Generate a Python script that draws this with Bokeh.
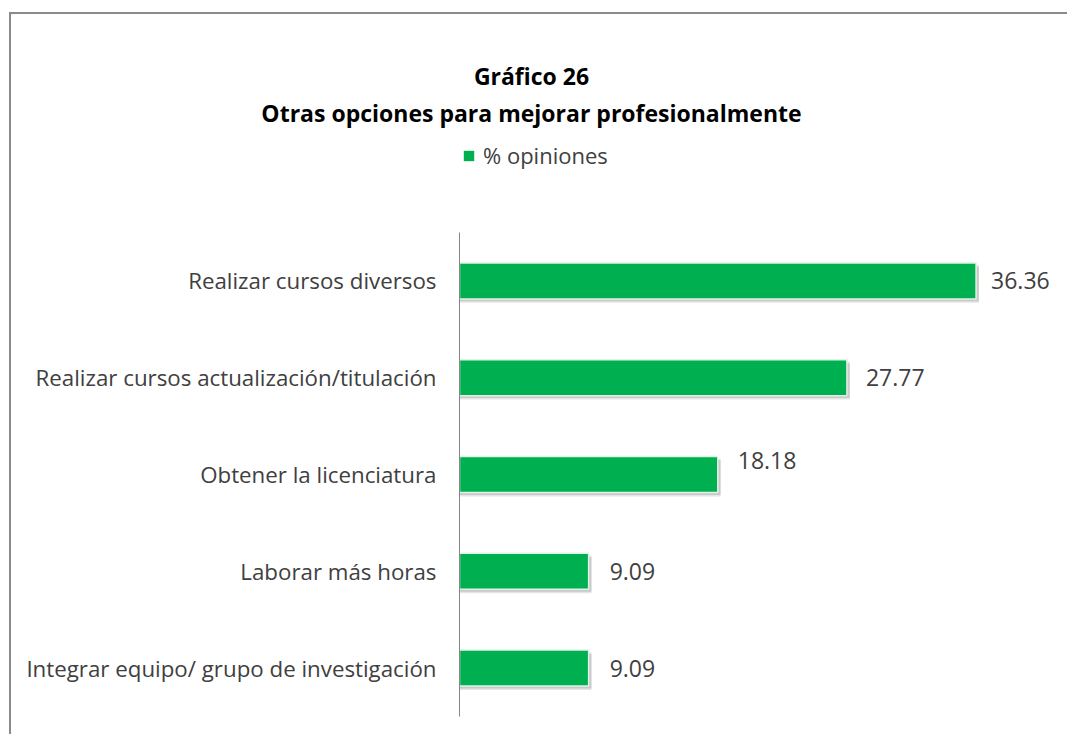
from bokeh.plotting import figure
from bokeh.models import ColumnDataSource, Label, Legend, LegendItem, Range1d, FactorRange
from bokeh.layouts import column
from bokeh.transform import dodge
from bokeh.core.properties import value
from bokeh.embed import file_html
from bokeh.resources import INLINE

categories = [
    "Realizar cursos diversos",
    "Realizar cursos actualización/titulación",
    "Obtener la licenciatura",
    "Laborar más horas",
    "Integrar equipo/ grupo de investigación",
]
values = [36.36, 27.27, 18.18, 9.09, 9.09]
value_labels = ["36.36", "27.77", "18.18", "9.09", "9.09"]
series_name = "% opiniones"
title_lines = ["Gráfico 26", "Otras opciones para mejorar profesionalmente"]

FONT = "Open Sans"
GREEN = "#00B050"
TXT = "#404040"
W = 1056
HH = 200

# ---------- header (titles + legend) ----------
hdr = figure(width=W, height=HH, x_range=Range1d(0, W), y_range=Range1d(HH, 0),
             output_backend="svg", toolbar_location=None,
             min_border=0, min_border_left=0, min_border_right=0,
             min_border_top=0, min_border_bottom=0)
hdr.frame_align = False
hdr.axis.visible = False
hdr.grid.visible = False
hdr.outline_line_color = None

hdr.add_layout(Label(x=520, y=61, text=title_lines[0], text_font=FONT,
                     text_font_size="23px", text_font_style="bold", text_color="#000000",
                     text_align="center", text_baseline="middle"))
hdr.add_layout(Label(x=520, y=98, text=title_lines[1], text_font=FONT,
                     text_font_size="23px", text_font_style="bold", text_color="#000000",
                     text_align="center", text_baseline="middle"))

# legend swatch renderer (its only bar lies outside the visible header range)
leg_src = ColumnDataSource(dict(y=[-1000], val=[1]))
leg_r = hdr.hbar(y="y", left=0, right="val", height=1, source=leg_src,
                 fill_color=GREEN, line_color=None)
legend = Legend(items=[LegendItem(label=series_name, renderers=[leg_r])],
                location=(451, 44), orientation="horizontal",
                glyph_width=13, glyph_height=13, label_standoff=8, padding=0, margin=0,
                border_line_color=None, background_fill_alpha=0,
                label_text_font=FONT, label_text_font_size="22px", label_text_color=TXT)
hdr.add_layout(legend, "center")

# ---------- main chart ----------
src = ColumnDataSource(dict(
    cat=categories,
    val=values,
    lbl=value_labels,
    shadow_right=[v + 0.2 for v in values],
    dx=[15, 19, 20, 21, 21],
    dy=[0, 0, -14, 0, 0],
))

p = figure(
    width=W, height=520,
    y_range=FactorRange(factors=list(reversed(categories)), range_padding=0),
    x_range=Range1d(0, 41.6),
    output_backend="svg", toolbar_location=None,
    min_border_left=448, min_border_right=17, min_border_top=18, min_border_bottom=18,
)
p.frame_align = False
p.outline_line_color = None
p.xgrid.visible = False
p.ygrid.visible = False
p.xaxis.visible = False

p.hbar(y=dodge("cat", -0.04, range=p.y_range), left=0, right="shadow_right", height=0.372,
       source=src, fill_color="#000000", fill_alpha=0.10, line_color=None)
p.hbar(y=dodge("cat", -0.025, range=p.y_range), left=0, right="shadow_right", height=0.372,
       source=src, fill_color="#000000", fill_alpha=0.12, line_color=None)
p.hbar(y="cat", left=0, right="val", height=0.372, source=src,
       fill_color=GREEN, line_color="#dff2e5", line_width=1.5)

p.text(x="val", y="cat", text="lbl", x_offset="dx", y_offset="dy", source=src,
       text_font=value(FONT), text_font_size="23px", text_color=TXT,
       text_baseline="middle", text_align="left")

ax = p.yaxis[0]
ax.axis_line_color = "#868686"
ax.axis_line_width = 1
ax.major_tick_line_color = None
ax.minor_tick_line_color = None
ax.major_label_text_font = FONT
ax.major_label_text_font_size = "22.3px"
ax.major_label_text_color = TXT
ax.major_label_standoff = 17

layout = column(hdr, p, spacing=0,
                styles={"margin-left": "9px", "margin-top": "12px",
                        "border-left": "2px solid #8a8a8a", "border-top": "2px solid #8a8a8a"})

open("out.html", "w").write(file_html(layout, INLINE))
